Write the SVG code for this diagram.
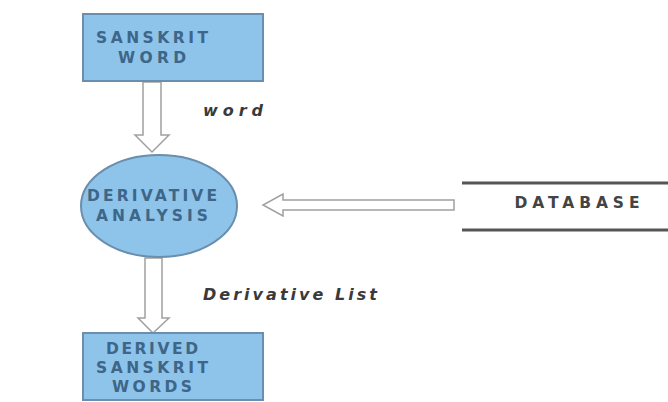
<svg xmlns="http://www.w3.org/2000/svg" width="668" height="402" viewBox="0 0 668 402">
<style>
.box{fill:#8ec3ea;stroke:#6a8fae;stroke-width:2}
.nt{font-family:"DejaVu Sans",sans-serif;font-weight:bold;font-size:15.5px;fill:#3d6688;text-anchor:middle}
.lbl{font-family:"DejaVu Sans",sans-serif;font-style:italic;font-size:16px;fill:#3a3a3a;font-weight:bold}
.arr{fill:#fff;stroke:#a0a0a0;stroke-width:1.5}
</style>
<rect width="668" height="402" fill="#fff"/>
<g id="connectors">
<path class="arr" d="M143,82 L143,135 L135,135 L152,152 L169,135 L161,135 L161,82 Z"/>
<path class="arr" d="M145,258 L145,318 L138,318 L153,333 L169,318 L162,318 L162,258 Z"/>
<path class="arr" d="M454,200 L283,200 L283,194 L263,205 L283,216 L283,210 L454,210 Z"/>
<text class="lbl" x="203" y="116" textLength="60" lengthAdjust="spacing">word</text>
<text class="lbl" x="203" y="300" textLength="174" lengthAdjust="spacing">Derivative List</text>
</g>
<g id="sanskrit-word">
<rect class="box" x="83" y="14" width="180" height="67"/>
<text class="nt" x="152" y="43" textLength="112" lengthAdjust="spacing">SANSKRIT</text>
<text class="nt" x="152" y="63" textLength="68" lengthAdjust="spacing">WORD</text>
</g>
<g id="derivative-analysis">
<ellipse class="box" cx="159" cy="206" rx="78" ry="51"/>
<text class="nt" x="152" y="201" textLength="130" lengthAdjust="spacing">DERIVATIVE</text>
<text class="nt" x="152" y="221" textLength="112" lengthAdjust="spacing">ANALYSIS</text>
</g>
<g id="database">
<line x1="462" y1="183" x2="668" y2="183" stroke="#555" stroke-width="3"/>
<line x1="462" y1="230" x2="668" y2="230" stroke="#555" stroke-width="3"/>
<text class="nt" x="577" y="208" textLength="125" lengthAdjust="spacing" style="fill:#444">DATABASE</text>
</g>
<g id="derived-sanskrit-words">
<rect class="box" x="83" y="333" width="180" height="67"/>
<text class="nt" x="152" y="354" textLength="92" lengthAdjust="spacing">DERIVED</text>
<text class="nt" x="152" y="373" textLength="112" lengthAdjust="spacing">SANSKRIT</text>
<text class="nt" x="152" y="392" textLength="80" lengthAdjust="spacing">WORDS</text>
</g>
</svg>
